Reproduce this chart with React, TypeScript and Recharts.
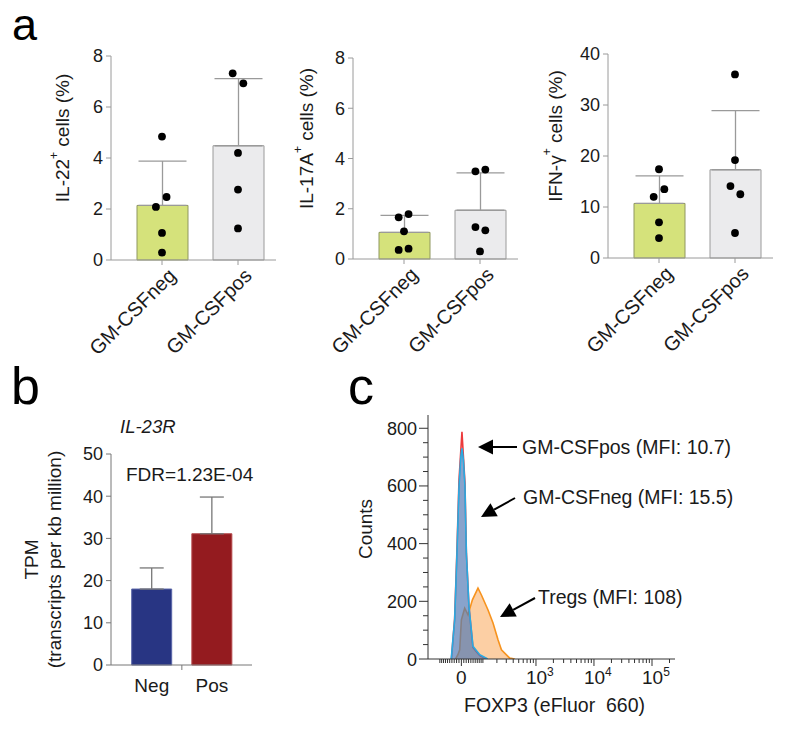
import React from "react";
import { ComposedChart, Bar, Cell, ErrorBar, Scatter, Area, XAxis, YAxis, Label } from "recharts";

const FONT = "'Liberation Sans', Arial, Helvetica, sans-serif";
const INK = "#1a1a1a";
const AXIS_GREY = "#9a9a9a";

// ---- panel a ----
const groups = ["GM-CSFneg", "GM-CSFpos"];

const il22Mean = [2.14, 4.48];
const il22Sd = [1.74, 2.63];
const il22Neg = [4.84, 2.47, 2.08, 1.06, 0.29];
const il22Pos = [7.32, 6.93, 4.2, 2.76, 1.24];

const il17Mean = [1.06, 1.94];
const il17Sd = [0.68, 1.49];
const il17Neg = [1.79, 1.66, 1.1, 0.41, 0.36];
const il17Pos = [3.56, 3.49, 1.27, 1.14, 0.3];

const ifngMean = [10.7, 17.3];
const ifngSd = [5.4, 11.6];
const ifngNeg = [17.4, 13.5, 12.0, 7.0, 3.9];
const ifngPos = [36.0, 19.2, 14.1, 12.5, 4.9];

const ticks8 = [0, 2, 4, 6, 8];
const ticks40 = [0, 10, 20, 30, 40];

// sideways spread of the dots, in fractions of a category
const il22Jitter = [[0, 0.06, -0.08, 0, 0], [-0.07, 0.07, 0, 0, 0]];
const il17Jitter = [[0.06, -0.07, 0, 0.06, -0.07], [0.07, -0.06, -0.06, 0.07, 0]];
const ifngJitter = [[0, 0.07, -0.07, 0, 0], [0, 0, -0.06, 0.07, 0]];

// ---- panel b ----
const tpmGroups = ["Neg", "Pos"];
const tpmMean = [18.0, 31.1];
const tpmSd = [5.0, 8.7];
const tpmTicks = [0, 10, 20, 30, 40, 50];

// ---- panel c ----
// x is in axis display units: 0 = value 0, 10^3 at 1.284, then one unit per decade
const posX = [-0.172, -0.116, -0.076, -0.041, 0.01, 0.062, 0.086, 0.131, 0.2, 0.316, 0.44];
const posY = [0, 140, 380, 620, 788, 610, 370, 180, 40, 12, 0];
const negX = [-0.175, -0.116, -0.076, -0.041, -0.01, 0.01, 0.035, 0.062, 0.086, 0.131, 0.2, 0.316, 0.453];
const negY = [0, 136, 367, 597, 700, 730, 690, 597, 367, 182, 44, 15, 0];
const tregX = [-0.1, -0.06, -0.029, 0, 0.057, 0.114, 0.19, 0.286, 0.345, 0.459, 0.545, 0.631, 0.69, 0.833, 0.919];
const tregY = [0, 15, 32, 136, 176, 153, 205, 246, 222, 170, 125, 67, 32, 3, 0];
const countTicks = [0, 50, 100, 150, 200, 250, 300, 350, 400, 450, 500, 550, 600, 650, 700, 750, 800];
const majorValues = [0, 1e3, 1e4, 1e5];
const majorLabels = ["0", "3", "4", "5"];

const LOGICLE_W = 52;
const toDisplay = (v: number) => Math.asinh(v / (2 * LOGICLE_W)) / Math.LN10;
const X_MIN = -0.575;
const X_MAX = 3.68;
const majorD = majorValues.map(toDisplay);
const minorD: number[] = [];
for (let k = 1; k <= 5; k++) {
  for (let m = 1; m <= 9; m++) {
    const v = m * Math.pow(10, k);
    [v, -v].forEach((s) => {
      const d = toDisplay(s);
      if (d > X_MIN && d < X_MAX && !majorValues.includes(s)) minorD.push(d);
    });
  }
}
const xTickPos = [...majorD, ...minorD].sort((a, b) => a - b);

function histRows() {
  const map = new Map<number, any>();
  const put = (xs: number[], ys: number[], key: string) =>
    xs.forEach((x, i) => {
      const row = map.get(x) || { x };
      row[key] = ys[i];
      map.set(x, row);
    });
  put(tregX, tregY, "treg");
  put(posX, posY, "pos");
  put(negX, negY, "neg");
  return Array.from(map.values()).sort((a, b) => a.x - b.x);
}

// rotated axis title; dx from the axis box's left edge, dy from its middle
const vLabel = (lines: { text: React.ReactNode; dx: number }[], dy = 0) => (props: any) => {
  const vb = props.viewBox;
  const cy = vb.y + vb.height / 2 + dy;
  return (
    <g>
      {lines.map((l, i) => {
        const cx = vb.x + l.dx;
        return (
          <text key={i} x={cx} y={cy} transform={`rotate(-90, ${cx}, ${cy})`} textAnchor="middle"
            dominantBaseline="central" fontSize={19} fontFamily={FONT} fill={INK}>
            {l.text}
          </text>
        );
      })}
    </g>
  );
};

const sup = (base: string, s: string, rest: string) => (
  <>
    {base}
    <tspan dy={-8} fontSize={12}>{s}</tspan>
    <tspan dy={8}>{rest}</tspan>
  </>
);

function RotTick(props: any) {
  const { x, y, payload } = props;
  const ax = x + 15;
  const ay = y + 12;
  return (
    <text x={ax} y={ay} transform={`rotate(-45, ${ax}, ${ay})`} textAnchor="end" fontSize={20} fontFamily={FONT} fill={INK}>
      {payload.value}
    </text>
  );
}

const dot = (p: any) => <circle cx={p.cx} cy={p.cy} r={3.9} fill="#000" />;

type PanelProps = {
  left: number; top: number; marginTop: number; xHeight: number;
  yMax: number; yTicks: number[]; label: React.ReactNode; labelDx: number;
  mean: number[]; sd: number[]; neg: number[]; pos: number[]; jitter: number[][];
};

function DotBarPanel(p: PanelProps) {
  const data = groups.map((g, i) => ({ name: g, mean: p.mean[i], err: [0, p.sd[i]] }));
  const dots = [p.neg, p.pos].flatMap((vals, gi) => vals.map((v, k) => ({ x: gi + 0.5 + p.jitter[gi][k], y: v })));
  return (
    <div style={{ position: "absolute", left: p.left, top: p.top }}>
      <ComposedChart width={290} height={330} data={data} margin={{ top: p.marginTop, right: 14, left: 0, bottom: 0 }}>
        <XAxis xAxisId="cat" dataKey="name" type="category" height={p.xHeight} padding={{ left: 13, right: 0 }}
          stroke={AXIS_GREY} tickSize={5} tickMargin={0} interval={0} tick={<RotTick />} />
        <XAxis xAxisId="num" dataKey="x" type="number" domain={[0, 2]} hide padding={{ left: 13, right: 0 }} />
        <YAxis type="number" domain={[0, p.yMax]} ticks={p.yTicks} interval={0} width={111} stroke={AXIS_GREY}
          tickSize={5} tickMargin={3} tick={{ fill: INK, fontSize: 18, fontFamily: FONT }}>
          <Label content={vLabel([{ text: p.label, dx: p.labelDx }], -20)} />
        </YAxis>
        <Bar xAxisId="cat" dataKey="mean" barSize={51} isAnimationActive={false}>
          <Cell fill="#d5e27b" stroke="#8f9760" />
          <Cell fill="#ebebed" stroke="#9a9a9a" />
          <ErrorBar dataKey="err" width={24} stroke={AXIS_GREY} strokeWidth={1.3} direction="y" />
        </Bar>
        <Scatter xAxisId="num" data={dots} dataKey="y" shape={dot} isAnimationActive={false} />
      </ComposedChart>
    </div>
  );
}

function TpmTick(props: any) {
  const { x, y, payload, index } = props;
  const half = payload.offset || 30;
  return (
    <g>
      {index === 0 && <line x1={x + half} x2={x + half} y1={y} y2={y + 5} stroke="#777" />}
      <text x={x} y={y + 27} textAnchor="middle" fontSize={19} fontFamily={FONT} fill={INK}>{payload.value}</text>
    </g>
  );
}

function TpmPanel() {
  const data = tpmGroups.map((g, i) => ({ name: g, mean: tpmMean[i], err: [0, tpmSd[i]] }));
  return (
    <div style={{ position: "absolute", left: 0, top: 400 }}>
      <ComposedChart width={265} height={305} data={data} margin={{ top: 54, right: 13, left: 0, bottom: 0 }}>
        <XAxis dataKey="name" type="category" height={40} padding={{ left: 10.7, right: 10 }} stroke="#777"
          tickLine={false} tickSize={0} tickMargin={0} interval={0} tick={<TpmTick />} />
        <YAxis type="number" domain={[0, 50]} ticks={tpmTicks} interval={0} width={111} stroke="#777"
          tickSize={5} tickMargin={3} tick={{ fill: INK, fontSize: 18, fontFamily: FONT }}>
          <Label content={vLabel([{ text: "TPM", dx: 31 }, { text: "(transcripts per kb million)", dx: 54 }])} />
        </YAxis>
        <Bar dataKey="mean" barSize={40} isAnimationActive={false}>
          <Cell fill="#283583" stroke="#5a66a8" />
          <Cell fill="#941b1f" stroke="#b5484b" />
          <ErrorBar dataKey="err" width={12} stroke="#777" strokeWidth={1.3} direction="y" />
        </Bar>
      </ComposedChart>
    </div>
  );
}

function HistXTick(props: any) {
  const { x, y, payload } = props;
  const idx = majorD.findIndex((d) => Math.abs(d - payload.value) < 1e-9);
  const major = idx >= 0;
  return (
    <g>
      <line x1={x} x2={x} y1={y} y2={y + (major ? 7 : 4)} stroke="#333" />
      {idx === 0 && (
        <text x={x} y={y + 25} textAnchor="middle" fontSize={19} fontFamily={FONT} fill={INK}>0</text>
      )}
      {idx > 0 && (
        <text x={x - 10} y={y + 25} fontSize={19} fontFamily={FONT} fill={INK}>
          10<tspan dy={-8} fontSize={12}>{majorLabels[idx]}</tspan>
        </text>
      )}
    </g>
  );
}

function HistYTick(props: any) {
  const { x, y, payload } = props;
  const major = payload.value % 200 === 0;
  return (
    <g>
      <line x1={x - (major ? 9 : 5)} x2={x} y1={y} y2={y} stroke="#333" />
      {major && (
        <text x={x - 11} y={y + 6.5} textAnchor="end" fontSize={18} fontFamily={FONT} fill={INK}>{payload.value}</text>
      )}
    </g>
  );
}

const xTitle = (props: any) => {
  const vb = props.viewBox;
  return (
    <text x={vb.x + vb.width / 2 + 3} y={vb.y + 53} textAnchor="middle" fontSize={19.5} fontFamily={FONT} fill={INK}
      style={{ whiteSpace: "pre" }}>
      {"FOXP3 (eFluor  660)"}
    </text>
  );
};

function HistogramPanel() {
  const rows = histRows();
  return (
    <div style={{ position: "absolute", left: 340, top: 400 }}>
      <ComposedChart width={345} height={329} data={rows} margin={{ top: 15, right: 10, left: 0, bottom: 0 }}>
        <XAxis dataKey="x" type="number" domain={[X_MIN, X_MAX]} allowDataOverflow ticks={xTickPos} interval={0}
          tickLine={false} tickSize={0} tickMargin={0} stroke="#333" height={70} tick={<HistXTick />}>
          <Label content={xTitle} />
        </XAxis>
        <YAxis type="number" domain={[0, 846]} allowDataOverflow ticks={countTicks} interval={0} tickLine={false}
          tickSize={0} tickMargin={0} width={88} stroke="#333" tick={<HistYTick />}>
          <Label content={vLabel([{ text: "Counts", dx: 25 }], -8)} />
        </YAxis>
        <Area dataKey="treg" type="linear" connectNulls stroke="#f7931e" strokeWidth={1.6} fill="#f9a85a"
          fillOpacity={0.55} dot={false} activeDot={false} isAnimationActive={false} />
        <Area dataKey="pos" type="linear" connectNulls stroke="#ec3a3c" strokeWidth={1.6} fill="#f06060"
          fillOpacity={0.2} dot={false} activeDot={false} isAnimationActive={false} />
        <Area dataKey="neg" type="linear" connectNulls stroke="#29abe2" strokeWidth={1.6} fill="#3a7cc0"
          fillOpacity={0.6} dot={false} activeDot={false} isAnimationActive={false} />
      </ComposedChart>
    </div>
  );
}

function Arrow({ from, tip }: { from: [number, number]; tip: [number, number] }) {
  const dx = tip[0] - from[0];
  const dy = tip[1] - from[1];
  const len = Math.hypot(dx, dy);
  const ux = dx / len;
  const uy = dy / len;
  const bx = tip[0] - 15 * ux;
  const by = tip[1] - 15 * uy;
  const px = -uy * 7.5;
  const py = ux * 7.5;
  return (
    <g>
      <line x1={from[0]} y1={from[1]} x2={bx} y2={by} stroke="#000" strokeWidth={2} />
      <polygon points={`${tip[0]},${tip[1]} ${bx + px},${by + py} ${bx - px},${by - py}`} fill="#000" />
    </g>
  );
}

function Overlay() {
  const t = { fontFamily: FONT, fill: INK };
  return (
    <svg width={800} height={729} style={{ position: "absolute", left: 0, top: 0, pointerEvents: "none" }}>
      <text x={12} y={40} fontSize={45} {...t} fill="#000">a</text>
      <text x={11} y={404} fontSize={52} {...t} fill="#000">b</text>
      <text x={348} y={404} fontSize={52} {...t} fill="#000">c</text>
      <text x={120} y={433} fontSize={18.5} fontStyle="italic" {...t}>IL-23R</text>
      <text x={126} y={481} fontSize={19} {...t}>FDR=1.23E-04</text>
      <text x={522} y={454} fontSize={19.5} {...t}>GM-CSFpos (MFI: 10.7)</text>
      <text x={523} y={504} fontSize={19.5} {...t}>GM-CSFneg (MFI: 15.5)</text>
      <text x={538} y={604} fontSize={19.5} {...t}>Tregs (MFI: 108)</text>
      <Arrow from={[517, 447]} tip={[478, 447]} />
      <Arrow from={[515, 498]} tip={[481, 517]} />
      <Arrow from={[535, 598]} tip={[500, 617]} />
    </svg>
  );
}

export default function App() {
  return (
    <div style={{ position: "absolute", left: 0, top: 0, width: 800, height: 729, background: "#fff", fontFamily: FONT }}>
      <DotBarPanel left={0} top={40} marginTop={16} xHeight={110} yMax={8} yTicks={ticks8}
        label={sup("IL-22", "+", " cells (%)")} labelDx={62}
        mean={il22Mean} sd={il22Sd} neg={il22Neg} pos={il22Pos} jitter={il22Jitter} />
      <DotBarPanel left={242} top={40} marginTop={18} xHeight={111} yMax={8} yTicks={ticks8}
        label={sup("IL-17A", "+", " cells (%)")} labelDx={64}
        mean={il17Mean} sd={il17Sd} neg={il17Neg} pos={il17Pos} jitter={il17Jitter} />
      <DotBarPanel left={497} top={40} marginTop={14} xHeight={112} yMax={40} yTicks={ticks40}
        label={sup("IFN-γ", "+", " cells (%)")} labelDx={58}
        mean={ifngMean} sd={ifngSd} neg={ifngNeg} pos={ifngPos} jitter={ifngJitter} />
      <TpmPanel />
      <HistogramPanel />
      <Overlay />
    </div>
  );
}
